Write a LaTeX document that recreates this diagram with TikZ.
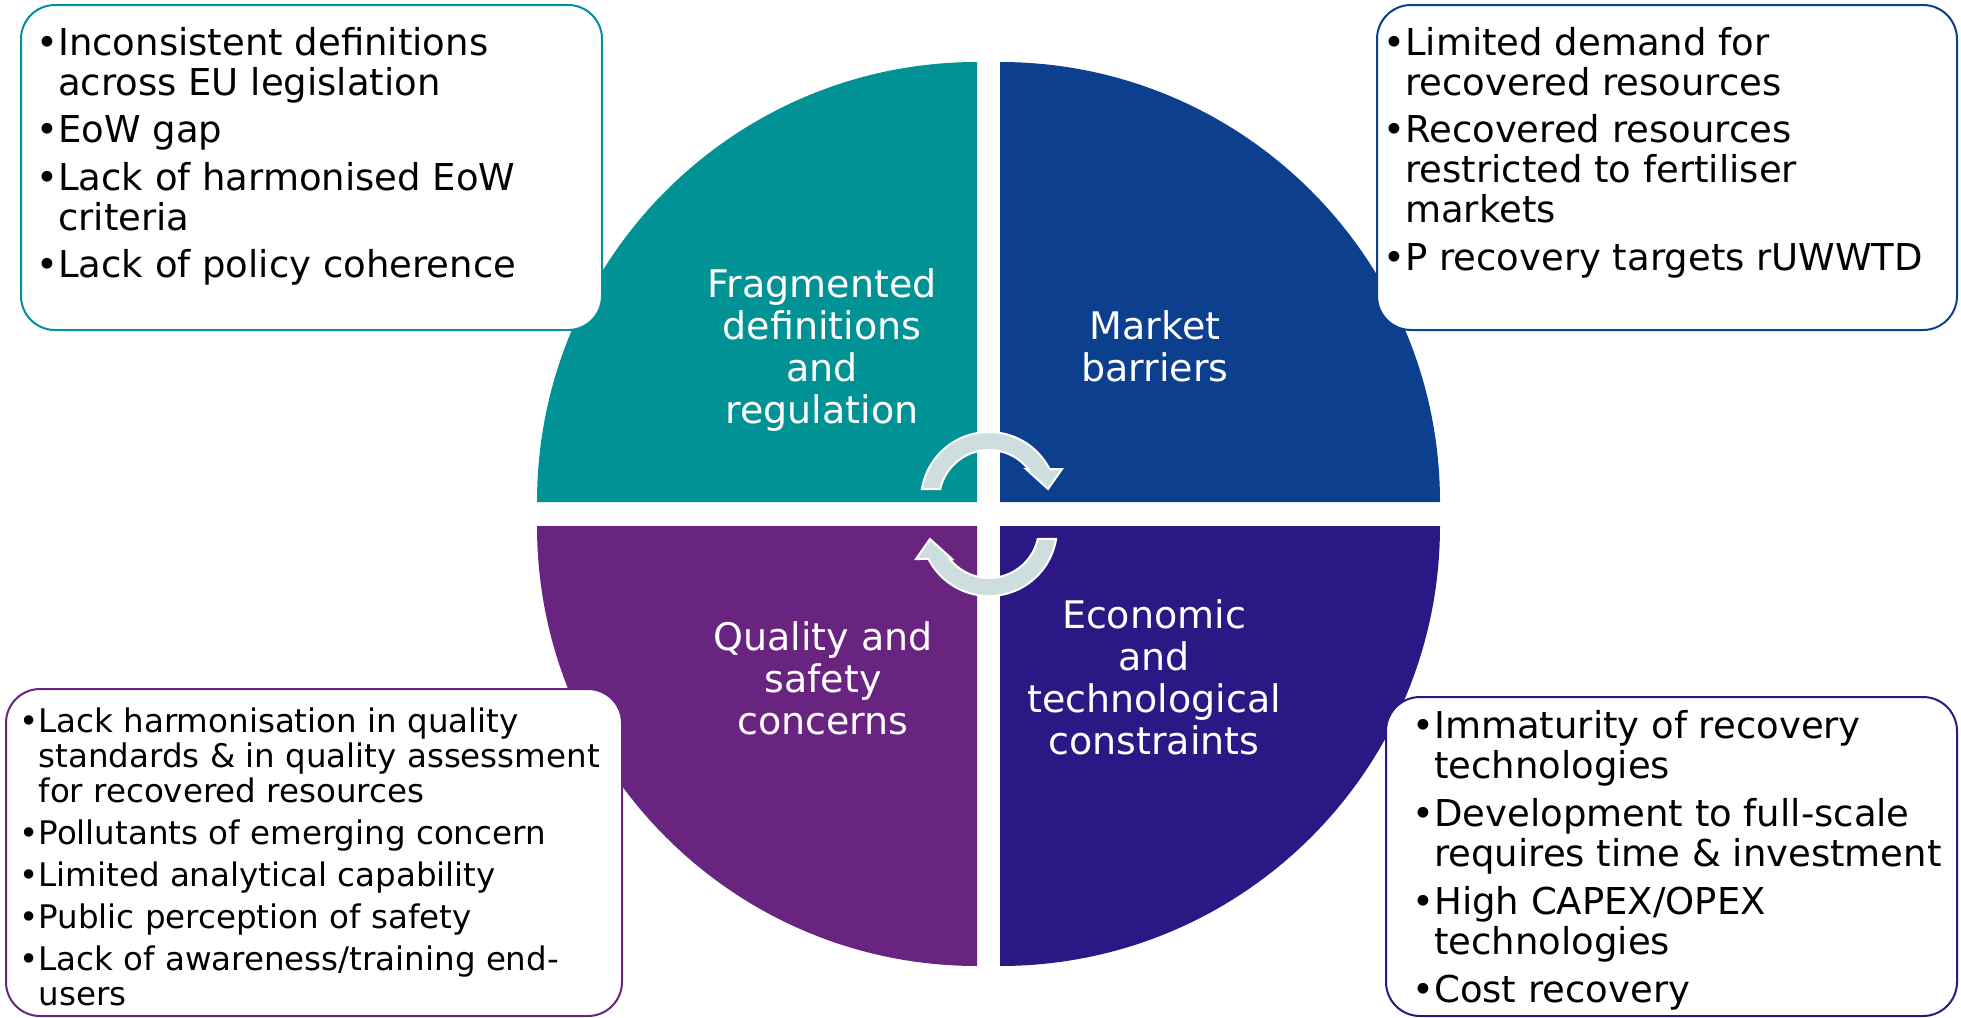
\documentclass[tikz,border=0pt]{standalone}
\usepackage{fontspec}
\setmainfont{DejaVu Sans}
\definecolor{qteal}{RGB}{0,146,148}
\definecolor{qblue}{RGB}{12,63,141}
\definecolor{qpurple}{RGB}{105,36,128}
\definecolor{qindigo}{RGB}{43,24,133}
\definecolor{arrowc}{RGB}{206,222,222}
\newcommand{\bul}{•}
\newcommand{\ind}{\phantom{•}}
\tikzset{
  quad/.style={draw=none},
  cyclearrow/.style={fill=arrowc, draw=white, line width=1pt, line join=miter},
  qlabel/.style={anchor=north, inner sep=0pt, align=center, text=white, font=\fontsize{19}{21}\selectfont},
  infobox/.style={rectangle, rounded corners=17pt, fill=white, line width=1pt, inner sep=0pt},
  boxtext/.style={anchor=north west, inner sep=0pt, align=left, font=\fontsize{18.5}{20}\selectfont},
  smalltext/.style={anchor=north west, inner sep=0pt, align=left, font=\fontsize{16.25}{17.5}\selectfont}
}
\begin{document}
\begin{tikzpicture}[x=0.5pt,y=-0.5pt]
\useasboundingbox (0,0) rectangle (1961,1018);
% quadrants
\fill[qteal] (977,502) -- (537,502) arc[start angle=180, end angle=90, radius=220pt] -- cycle;
\fill[qblue] (1000,502) -- (1440,502) arc[start angle=0, end angle=90, radius=220pt] -- cycle;
\fill[qpurple] (977,526) -- (537,526) arc[start angle=180, end angle=270, radius=220pt] -- cycle;
\fill[qindigo] (1000,526) -- (1440,526) arc[start angle=0, end angle=-90, radius=220pt] -- cycle;
% cycle arrows
\begin{scope}[shift={(989,500)}]
\path[cyclearrow] (170.7:34pt) arc[start angle=170.7, end angle=27.1, radius=34pt]
  -- (36.5pt,15.5pt) -- (29.5pt,5.5pt) -- (18.5pt,15.5pt) -- (38.3:25pt)
  arc[start angle=38.3, end angle=167.3, radius=25pt] -- cycle;
\end{scope}
\begin{scope}[shift={(989,528)}, rotate=180]
\path[cyclearrow] (170.7:34pt) arc[start angle=170.7, end angle=27.1, radius=34pt]
  -- (36.5pt,15.5pt) -- (29.5pt,5.5pt) -- (18.5pt,15.5pt) -- (38.3:25pt)
  arc[start angle=38.3, end angle=167.3, radius=25pt] -- cycle;
\end{scope}
% quadrant labels
\node[qlabel] (lfrag) at (822,267) {\rule{0pt}{15pt}Fragmented\\definitions\\and\\regulation};
\node[qlabel] (lmarket) at (1155,309) {\rule{0pt}{15pt}Market\\barriers};
\node[qlabel] (lquality) at (823,620) {\rule{0pt}{15pt}Quality and\\safety\\concerns};
\node[qlabel] (lecon) at (1154,598) {\rule{0pt}{15pt}Economic\\and\\technological\\constraints};
% boxes
\node[infobox, draw=qteal, minimum width=290.5pt, minimum height=162.5pt] (boxtl) at (311.5,167.5) {};
\node[infobox, draw=qblue, minimum width=290pt, minimum height=162.5pt] (boxtr) at (1667,167.5) {};
\node[infobox, draw=qpurple, minimum width=308pt, minimum height=163.5pt] (boxbl) at (314,852.5) {};
\node[infobox, draw=qindigo, minimum width=285.5pt, minimum height=159.5pt] (boxbr) at (1671.5,856.5) {};
% box texts
\node[boxtext] (ttl) at (36,25) {\rule{0pt}{15pt}\bul Inconsistent definitions\\
\ind across EU legislation\\[3.75pt]
\bul EoW gap\\[3.75pt]
\bul Lack of harmonised EoW\\
\ind criteria\\[3.75pt]
\bul Lack of policy coherence};
\node[boxtext] (ttr) at (1383,25) {\rule{0pt}{15pt}\bul Limited demand for\\
\ind recovered resources\\[3.75pt]
\bul Recovered resources\\
\ind restricted to fertiliser\\
\ind markets\\[3.75pt]
\bul P recovery targets rUWWTD};
\node[smalltext] (tbl) at (19,706) {\rule{0pt}{13pt}\bul Lack harmonisation in quality\\
\ind standards \& in quality assessment\\
\ind for recovered resources\\[3.5pt]
\bul Pollutants of emerging concern\\[3.5pt]
\bul Limited analytical capability\\[3.5pt]
\bul Public perception of safety\\[3.5pt]
\bul Lack of awareness/training end-\\
\ind users};
\node[boxtext] (tbr) at (1412,708) {\rule{0pt}{15pt}\bul Immaturity of recovery\\
\ind technologies\\[4pt]
\bul Development to full-scale\\
\ind requires time \& investment\\[4pt]
\bul High CAPEX/OPEX\\
\ind technologies\\[4pt]
\bul Cost recovery};
\end{tikzpicture}
\end{document}
